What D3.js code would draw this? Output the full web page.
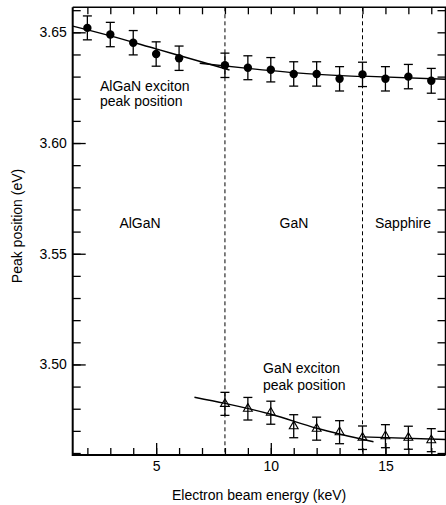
<!DOCTYPE html>
<html>
<head>
<meta charset="utf-8">
<script src="https://cdn.jsdelivr.net/npm/d3@7"></script>
<style>
  body { margin: 0; background: #fff; }
  text { font-family: "Liberation Sans", Arial, sans-serif; fill: #000; }
</style>
</head>
<body>
<script>
// electron beam energies (keV)
var energy = [2,3,4,5,6,8,9,10,11,12,13,14,15,16,17];
// AlGaN exciton peak (filled circles)
var algan = [3.652,3.649,3.6453,3.6402,3.6383,3.6351,3.6340,3.6331,3.6312,3.6312,3.6290,3.6310,3.6290,3.6300,3.6281];
var alganErr = [0.0054,0.0055,0.0055,0.0055,0.0055,0.0055,0.0054,0.0055,0.0055,0.0055,0.0055,0.0055,0.0055,0.0055,0.0056];
// GaN exciton peak (open triangles)
var ganEnergy = [8,9,10,11,12,13,14,15,16,17];
var gan = [3.4822,3.4800,3.4782,3.4721,3.4710,3.4694,3.4669,3.4676,3.4669,3.4658];
var ganErr = [0.0052,0.0051,0.0052,0.0052,0.0052,0.0052,0.0053,0.0052,0.0052,0.0052];
// fit curves
var fitA = [[1.36,3.6528],[3,3.6484],[5,3.6425],[7,3.6366],[8.2,3.6330]];
var fitB = [[6.9,3.6360],[9,3.6337],[11,3.6318],[14,3.6300]];
var fitC = [[14,3.6302],[17.62,3.6288]];
var fitD = [[6.67,3.4852],[8,3.4824],[10,3.4775],[12,3.4712],[14.48,3.4651]];
var fitE = [[14,3.4673],[17.62,3.4661]];
// region borders
var borders = [8,14];
var xMajor = [5,10,15];
var yMajor = [3.50,3.55,3.60,3.65];

var W = 446, H = 505;
var m = {l:72.7, r:445.5, t:7.3, b:455};

var svg = d3.select('body').append('svg').attr('width',W).attr('height',H);

var x = d3.scaleLinear().domain([1.36,17.62]).range([m.l,m.r]);
var y = d3.scaleLinear().domain([3.4591,3.6613]).range([m.b,m.t]);

var xMinor = d3.range(2,18);
var yMinor = d3.range(346,367).map(function(d){return d/100;});

function axisStyle(g){
  g.select('.domain').remove();
  g.selectAll('.tick line').attr('stroke','#000').attr('stroke-width',1.3);
  g.selectAll('.tick text').style('font-size','14px').attr('fill','#000');
}

// bottom
svg.append('g').attr('transform','translate(0,'+m.b+')')
  .call(d3.axisBottom(x).tickValues(xMinor).tickSize(-7).tickFormat('')).call(axisStyle);
svg.append('g').attr('transform','translate(0,'+m.b+')')
  .call(d3.axisBottom(x).tickValues(xMajor).tickSize(-12).tickPadding(6).tickFormat(d3.format('d'))).call(axisStyle);
// top
svg.append('g').attr('transform','translate(0,'+m.t+')')
  .call(d3.axisTop(x).tickValues(xMinor).tickSize(-7).tickFormat('')).call(axisStyle);
// left
svg.append('g').attr('transform','translate('+m.l+',0)')
  .call(d3.axisLeft(y).tickValues(yMinor).tickSize(-8).tickFormat('')).call(axisStyle);
svg.append('g').attr('transform','translate('+m.l+',0)')
  .call(d3.axisLeft(y).tickValues(yMajor).tickSize(-13).tickPadding(6).tickFormat(d3.format('.2f'))).call(axisStyle);
// right
svg.append('g').attr('transform','translate('+m.r+',0)')
  .call(d3.axisRight(y).tickValues(yMinor).tickSize(-8).tickFormat('')).call(axisStyle);

// frame
svg.append('path').attr('fill','none').attr('stroke','#000').attr('stroke-width',1.5)
  .attr('d','M'+m.l+','+m.t+'H'+m.r+'V'+m.b);
svg.append('path').attr('fill','none').attr('stroke','#000').attr('stroke-width',2)
  .attr('d','M'+m.l+','+m.t+'V'+m.b+'H'+m.r);

// dashed borders
svg.selectAll('.border').data(borders).enter().append('line').attr('class','border')
  .attr('x1',function(d){return x(d);}).attr('x2',function(d){return x(d);})
  .attr('y1',m.t).attr('y2',m.b)
  .attr('stroke','#000').attr('stroke-width',1).attr('stroke-dasharray','4,3');

// fit lines
var line = d3.line().x(function(d){return x(d[0]);}).y(function(d){return y(d[1]);}).curve(d3.curveMonotoneX);
[fitA,fitB,fitC,fitD,fitE].forEach(function(f){
  svg.append('path').datum(f).attr('d',line).attr('fill','none').attr('stroke','#000').attr('stroke-width',1.4);
});

// error bars
function errBars(xs,ys,es){
  var g = svg.append('g').attr('stroke','#000').attr('stroke-width',1.3);
  var data = xs.map(function(d,i){return {x:d,y:ys[i],e:es[i]};});
  g.selectAll('.v').data(data).enter().append('line')
    .attr('x1',function(d){return x(d.x);}).attr('x2',function(d){return x(d.x);})
    .attr('y1',function(d){return y(d.y+d.e);}).attr('y2',function(d){return y(d.y-d.e);});
  g.selectAll('.ct').data(data).enter().append('line')
    .attr('x1',function(d){return x(d.x)-4.5;}).attr('x2',function(d){return x(d.x)+4.5;})
    .attr('y1',function(d){return y(d.y+d.e);}).attr('y2',function(d){return y(d.y+d.e);});
  g.selectAll('.cb').data(data).enter().append('line')
    .attr('x1',function(d){return x(d.x)-4.5;}).attr('x2',function(d){return x(d.x)+4.5;})
    .attr('y1',function(d){return y(d.y-d.e);}).attr('y2',function(d){return y(d.y-d.e);});
  return data;
}
var cData = errBars(energy,algan,alganErr);
var tData = errBars(ganEnergy,gan,ganErr);

svg.selectAll('.dot').data(cData).enter().append('circle').attr('class','dot')
  .attr('cx',function(d){return x(d.x);}).attr('cy',function(d){return y(d.y);})
  .attr('r',4.2).attr('fill','#000');

var tri = d3.symbol().type(d3.symbolTriangle).size(34);
svg.selectAll('.tri').data(tData).enter().append('path').attr('class','tri')
  .attr('d',tri)
  .attr('transform',function(d){return 'translate('+x(d.x)+','+y(d.y)+')';})
  .attr('fill','none').attr('stroke','#000').attr('stroke-width',1.1);

// annotations
function label(t,px,py,anchor){
  svg.append('text').attr('x',px).attr('y',py).attr('text-anchor',anchor||'start')
    .style('font-size','14px').text(t);
}
label('AlGaN exciton',100,91);
label('peak position',100,106);
label('GaN exciton',263,373);
label('peak position',263,390);
label('AlGaN',140,228,'middle');
label('GaN',294,228,'middle');
label('Sapphire',403,228,'middle');

// axis titles
svg.append('text').attr('x',(m.l+m.r)/2).attr('y',500).attr('text-anchor','middle')
  .style('font-size','14px').text('Electron beam energy (keV)');
svg.append('text').attr('transform','translate(22,226) rotate(-90)').attr('text-anchor','middle')
  .style('font-size','14px').text('Peak position (eV)');
</script>
</body>
</html>
